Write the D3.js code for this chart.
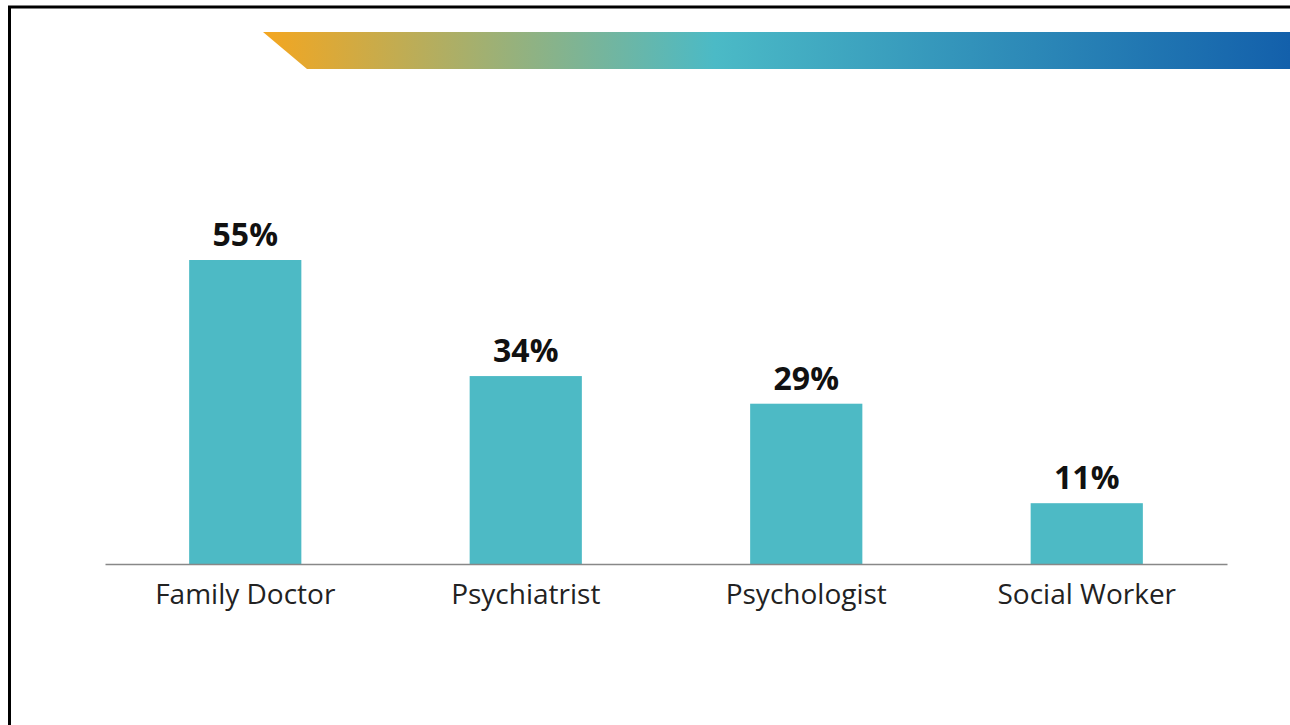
<!DOCTYPE html>
<html lang="en">
<head>
  <meta charset="UTF-8">
  <title>Who people turn to</title>
  <script src="https://d3js.org/d3.v7.min.js"></script>
  <style>
    body { margin: 0; background: #fff; }
  </style>
</head>
<body>
<div id="chart"></div>
<script>
  // data
  var categories = ["Family Doctor", "Psychiatrist", "Psychologist", "Social Worker"];
  var values = [55, 34, 29, 11];

  var W = 1290, H = 725;
  var svg = d3.select("#chart").append("svg")
    .attr("width", W)
    .attr("height", H);

  // slide frame (left + top edges)
  svg.append("path")
    .attr("d", "M9.5," + H + "V7H" + W)
    .attr("fill", "none")
    .attr("stroke", "#000")
    .attr("stroke-width", 3);

  // gradient banner
  var grad = svg.append("defs").append("linearGradient")
    .attr("id", "banner")
    .attr("gradientUnits", "userSpaceOnUse")
    .attr("x1", 263).attr("x2", 1290).attr("y1", 0).attr("y2", 0);
  grad.append("stop").attr("offset", 0).attr("stop-color", "#f4a620");
  grad.append("stop").attr("offset", 0.44).attr("stop-color", "#4bbac6");
  grad.append("stop").attr("offset", 1).attr("stop-color", "#1360ab");

  svg.append("path")
    .attr("d", "M263,32H1290V69H307Z")
    .attr("fill", "url(#banner)");

  // scales
  var margin = { left: 105, right: 63, bottom: 161 };
  var x = d3.scaleBand()
    .domain(categories)
    .range([margin.left, W - margin.right])
    .paddingInner(0.6)
    .paddingOuter(0.3);

  var y = d3.scaleLinear()
    .domain([0, 55])
    .range([H - margin.bottom, 260]);

  // bars
  svg.append("g")
    .selectAll("rect")
    .data(values)
    .enter()
    .append("rect")
    .attr("x", function(d, i) { return x(categories[i]); })
    .attr("y", function(d) { return y(d); })
    .attr("width", x.bandwidth())
    .attr("height", function(d) { return y(0) - y(d); })
    .style("fill", "#4dbac5");

  // value labels
  svg.append("g")
    .selectAll("text")
    .data(values)
    .enter()
    .append("text")
    .attr("x", function(d, i) { return x(categories[i]) + x.bandwidth() / 2; })
    .attr("y", function(d) { return y(d) - 14; })
    .attr("text-anchor", "middle")
    .style("font-family", "'Open Sans', sans-serif")
    .style("font-weight", "bold")
    .style("font-size", "32px")
    .style("fill", "#111")
    .text(function(d) { return d + "%"; });

  // x axis
  var axis = svg.append("g")
    .attr("transform", "translate(0," + y(0) + ")")
    .call(d3.axisBottom(x).tickSize(0).tickPadding(20).tickSizeOuter(0));
  axis.select(".domain").attr("stroke", "#888").attr("stroke-width", 1.5);
  axis.selectAll("text")
    .style("font-family", "'Open Sans', sans-serif")
    .style("font-size", "28px")
    .style("fill", "#222");
</script>
</body>
</html>
